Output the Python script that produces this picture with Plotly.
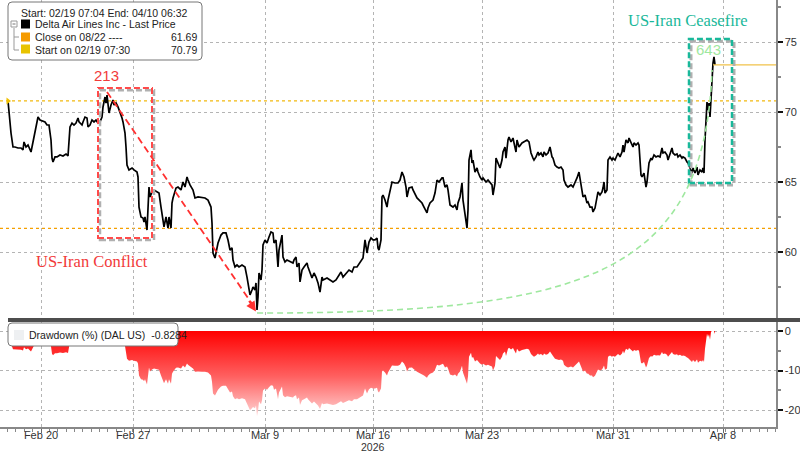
import plotly.graph_objects as go
import numpy as np

# ---------------- data ----------------
# intraday bar index (compressed trading time) and DAL last price
bar = [8, 9, 11, 13, 15, 18, 21, 23, 24, 26, 28, 31, 33, 34, 35, 37, 38, 40, 42, 45, 47, 49, 51, 52, 53, 55, 57, 60, 63, 66, 68,
       70, 72, 74, 76, 78, 79, 82, 83, 85, 87, 88, 90, 92, 94, 96, 98, 100, 102, 103, 105, 106, 107, 108, 109, 111, 113, 114, 116,
       118, 120, 122, 123, 125, 126, 127, 129, 132, 134, 137, 138, 139, 141, 143, 144, 145, 147, 148, 149, 150, 152, 154, 157, 159,
       161, 163, 164, 166, 168, 169, 171, 172, 173, 176, 178, 181, 183, 185, 187, 188, 190,
       193, 195, 198, 202, 205, 208, 211, 212, 213, 215, 217, 218, 221, 223, 226, 228, 230, 232, 233, 235, 237, 239, 242, 245, 247,
       249, 250, 252, 253, 255, 256, 257, 258, 259, 261, 262, 263, 265, 267, 269, 271, 273, 274, 276, 277, 278, 279, 281, 282, 283,
       285, 287, 290, 293, 294, 296, 297, 299, 300, 302, 304, 307, 308, 310, 312, 314, 316, 318, 320, 322, 323, 327, 330, 333, 336,
       338, 341, 343, 345, 347, 349, 352, 354, 357, 360, 362, 363, 365, 366, 367, 369, 371, 373, 375, 377, 378, 379, 381, 382, 383,
       385, 387, 388,
       390, 392, 395, 398, 400, 402, 404, 406, 407, 409, 412, 413, 417, 419, 422, 424, 427, 428, 430, 433, 435, 437, 439, 442, 443,
       445, 447, 448, 450, 453, 455, 457, 458, 460, 462, 463, 465, 466, 467, 468, 469, 471, 472, 473, 475, 477, 478, 480, 482, 483,
       486, 488, 490, 492, 493, 495, 496, 498, 500, 502, 503, 505, 506, 508, 509, 511, 513, 514, 516, 517, 519, 522, 524, 527, 529,
       531, 533, 534, 536, 538, 539, 541, 543, 544, 546, 548, 550, 552, 553, 555, 557, 559, 561, 563, 564, 566, 568, 571, 573, 574,
       577, 579, 581, 583, 585, 587, 588, 590, 592, 593, 595, 597, 598, 600, 602, 603, 604, 605, 607, 608, 610, 612, 613, 615, 617,
       618, 620, 622, 623, 624, 626, 628, 629, 631, 633, 634, 636, 638, 639, 641, 642, 644, 646, 647, 649, 651, 652, 654, 656, 658,
       660, 662, 663, 665, 667, 668, 670, 672, 673, 675, 677, 678, 680, 682, 683, 685, 687, 688, 690, 692, 693, 695, 697, 698, 700,
       702, 703, 704, 705, 706, 707, 708, 709, 710, 711, 712, 713, 714, 715]

price = [70.79, 69.93, 68.50, 67.50, 67.50, 67.43, 67.43, 67.29, 67.86, 67.50, 67.64, 67.14, 67.79, 68.36, 68.50, 69.21, 69.64,
         69.43, 69.36, 69.29, 69.07, 69.07, 68.00, 66.71, 66.43, 66.79, 66.79, 66.93, 66.86, 67.00, 66.86,
         68.93, 69.21, 69.07, 69.21, 69.57, 69.29, 69.07, 69.29, 69.64, 69.57, 68.93, 69.07, 69.43, 69.29, 69.43, 69.21, 69.29,
         69.64, 70.36, 71.07, 70.64, 71.21, 70.64, 69.93, 70.50, 70.86, 70.50, 70.64,
         70.36, 70.00, 69.57, 69.29, 68.50, 67.50, 66.21, 65.86, 66.00, 65.86, 65.71, 65.36, 63.21, 62.50, 62.43, 62.14, 62.50,
         61.57, 63.50, 64.64, 63.93, 64.29, 64.43, 64.29, 64.21,
         63.21, 62.07, 61.79, 62.50, 61.71, 62.50, 61.71, 63.50, 63.86, 64.57, 64.64, 64.43, 65.00, 64.64, 65.36, 65.14, 64.79,
         64.43, 63.86, 63.93, 63.86, 63.86, 63.71, 63.21, 62.07, 59.93, 59.57, 60.14, 60.64, 61.21, 61.36, 61.36, 60.86, 60.14,
         60.29, 59.43, 58.93, 59.07, 58.93, 59.07, 58.93, 58.21,
         57.50, 56.93, 57.29, 57.50, 57.29, 57.79, 55.86, 56.79, 58.50, 58.00, 58.71, 60.50, 60.86, 60.64, 61.07, 61.43, 61.36,
         60.64, 60.86, 59.93, 58.93, 60.14, 61.07, 61.21, 59.64,
         59.29, 59.43, 59.29, 59.21, 59.43, 59.64, 58.93, 59.21, 57.86, 58.71, 58.93, 59.21, 58.93, 58.50, 58.14, 58.50, 58.21,
         57.79, 57.14, 58.21, 58.00, 58.14, 58.00, 57.86, 58.00,
         58.21, 58.57, 58.21, 58.36, 58.50, 58.71, 58.57, 58.93, 58.93, 59.21, 59.43, 59.57, 60.86, 60.50, 59.93, 60.71, 61.00,
         60.86, 60.86, 61.00, 60.29, 60.14, 60.86, 63.93, 64.07,
         63.71, 63.21, 63.71,
         64.43, 65.00, 64.93, 64.93, 65.14, 65.71, 65.36, 64.64, 63.93, 64.57, 64.64, 64.43, 63.86, 63.71, 63.50, 63.21, 62.79,
         63.14, 63.50, 63.71, 64.21, 65.14, 65.00, 65.29, 65.29,
         64.64, 64.79, 64.43, 63.36, 63.21, 63.36, 63.00, 63.50, 63.93, 64.93, 63.71, 62.79, 62.29, 61.71, 63.00, 66.57, 67.29,
         66.36, 66.57, 65.71, 66.00, 65.71, 65.36, 65.14, 65.29,
         65.00, 65.14, 64.93, 64.79, 64.07, 64.93, 66.71, 66.36, 66.00, 66.57, 67.14, 67.50, 66.71, 68.00, 68.21, 67.86, 68.14,
         67.79, 67.14, 68.00, 67.50, 67.79, 67.86, 68.00, 67.86,
         67.07, 66.71, 66.57, 66.79, 67.14, 66.93, 67.07, 66.79, 67.14, 66.93, 67.07, 67.50, 66.79, 66.71, 66.21, 66.07, 66.00,
         66.07, 65.86, 65.14, 64.79, 64.64, 64.79, 64.64, 64.79,
         65.29, 65.71, 64.79, 63.93, 64.07, 63.50, 63.57, 63.21, 63.21, 62.86, 63.14, 63.93, 64.29, 64.07, 64.29, 64.57, 65.00,
         64.21, 64.43, 66.57, 66.79, 66.57, 66.71, 66.57, 66.93,
         67.07, 66.79, 67.14, 67.64, 67.14, 68.00, 67.79, 68.14, 67.79, 67.50, 67.79, 67.64, 67.79, 67.64, 65.50, 65.36, 65.64,
         64.64, 65.00, 66.36, 66.71, 66.57, 66.93, 66.79, 66.86,
         66.79, 67.43, 67.07, 67.14, 66.93, 66.57, 66.93, 67.43, 67.07, 66.93, 67.00, 66.79, 66.93, 66.71, 66.79, 66.71, 66.43,
         66.36, 66.00, 65.64, 66.00, 65.64, 66.07, 65.50, 65.86,
         65.71, 66.00, 65.64, 68.00, 69.43, 70.71, 70.14, 70.64, 69.64, 71.07, 73.00, 73.50, 73.93, 73.36]

tick_bars = [41, 133, 265, 373, 482, 613, 723]
tick_labels = ["Feb 20", "Feb 27", "Mar 9", "Mar 16", "Mar 23", "Mar 31", "Apr 8"]
price_ticks = [60, 65, 70, 75]
dd_ticks = [0, -10, -20]

close_0822 = 61.69
start_0219 = 70.79
last_price = 73.36
drawdown_last = -0.8284

p = np.array(price)
drawdown = (p / np.maximum.accumulate(p) - 1.0) * 100.0

# ---------------- layout helpers ----------------
W, H = 800, 452
ML, MR, MT, MB = 0, 24, 0, 25
PW, PH = W - ML - MR, H - MT - MB


def px(x):
    return (x - ML) / PW


def py(y):
    return (H - MB - y) / PH


def rrect(x0, y0, x1, y1, r=4):
    a, b, c, d = px(x0), py(y0), px(x1), py(y1)
    rx, ry = r / PW, r / PH
    return (f"M {a+rx},{b} L {c-rx},{b} Q {c},{b} {c},{b-ry} L {c},{d+ry} Q {c},{d} {c-rx},{d} "
            f"L {a+rx},{d} Q {a},{d} {a},{d+ry} L {a},{b-ry} Q {a},{b} {a+rx},{b} Z")


SANS = "Liberation Sans, Arial, sans-serif"
SERIF = "Liberation Serif, Times New Roman, serif"
RED = "#f23a3a"
TEAL = "#19b89a"
LGREEN = "#9fe89f"

fig = go.Figure()

# price line (top panel)
fig.add_trace(go.Scatter(x=bar, y=price, mode="lines", line=dict(color="black", width=1.7),
                         xaxis="x2", yaxis="y", hoverinfo="skip", showlegend=False))
# start marker
fig.add_trace(go.Scatter(x=[bar[0]], y=[price[0]], mode="markers",
                         marker=dict(symbol="triangle-right", size=6, color="#f0c000"),
                         xaxis="x2", yaxis="y", hoverinfo="skip", showlegend=False))
# drawdown area (bottom panel)
fig.add_trace(go.Scatter(x=bar, y=drawdown, mode="lines", line=dict(width=0, color="red"),
                         fill="tozeroy",
                         fillgradient=dict(type="vertical", start=-23, stop=0,
                                           colorscale=[[0, "#ffe4e4"], [0.5, "#ff6060"], [1, "#ff0000"]]),
                         xaxis="x", yaxis="y2", hoverinfo="skip", showlegend=False))

grid = dict(showgrid=True, gridcolor="#b4b4b4", griddash="dot", gridwidth=1)

fig.update_layout(
    width=W, height=H, margin=dict(l=ML, r=MR, t=MT, b=MB, autoexpand=False),
    paper_bgcolor="white", plot_bgcolor="white", showlegend=False,
    font=dict(family=SANS, size=11, color="#333"),
    xaxis=dict(domain=[0, 1], anchor="y2", range=[0, PW], tickmode="array", tickvals=tick_bars,
               ticktext=tick_labels, ticks="outside", ticklen=4, tickcolor="#666",
               showline=True, linecolor="#888", linewidth=1.5, zeroline=False,
               tickfont=dict(size=11, color="#333"), ticklabelstandoff=-7,
               minor=dict(tickmode="linear", tick0=41, dtick=8.35, ticks="outside", ticklen=3,
                          tickcolor="#888", showgrid=False),
               **grid),
    xaxis2=dict(domain=[0, 1], anchor="y", matches="x", tickmode="array", tickvals=tick_bars,
                showticklabels=False, ticks="", showline=False, zeroline=False, **grid),
    yaxis=dict(domain=[py(318), 1], anchor="x2", side="right", range=[78 - 318 / 14, 78.0],
               tickmode="array", tickvals=price_ticks, ticks="outside", ticklen=5, tickwidth=2,
               tickcolor="#111", showline=True, linecolor="#888", linewidth=1.5, zeroline=False,
               tickfont=dict(size=11, color="#333"),
               minor=dict(tickmode="linear", tick0=0, dtick=2.5, ticks="outside", ticklen=3,
                          tickcolor="#888", showgrid=False),
               **grid),
    yaxis2=dict(domain=[0, py(322)], anchor="x", side="right", range=[-24.3, 2.28],
                tickmode="array", tickvals=dd_ticks, ticktext=[str(v) for v in dd_ticks],
                ticks="outside", ticklen=5, tickwidth=2, tickcolor="#111",
                showline=True, linecolor="#888", linewidth=1.5, zeroline=False,
                tickfont=dict(size=11, color="#333"),
                minor=dict(tickmode="linear", tick0=0, dtick=5, ticks="outside", ticklen=3,
                           tickcolor="#888", showgrid=False),
                **grid),
)

shapes = []
# reference lines
shapes.append(dict(type="line", xref="paper", yref="y", x0=0, x1=1, y0=start_0219, y1=start_0219,
                   line=dict(color="#f2b90f", width=1.3, dash="dot"), layer="below"))
shapes.append(dict(type="line", xref="paper", yref="y", x0=0, x1=1, y0=close_0822, y1=close_0822,
                   line=dict(color="#f5a000", width=1.3, dash="dot"), layer="below"))
shapes.append(dict(type="line", xref="x2", yref="y", x0=bar[-1] - 2, x1=PW, y0=last_price, y1=last_price,
                   line=dict(color="#f0c24a", width=1.2)))

# conflict box (shadow + red dashed)
for dx, dy, col, wd in [(2, -0.15, "#b0b0b0", 2.5), (0, 0, "#ff4a4a", 2)]:
    shapes.append(dict(type="rect", xref="x2", yref="y", x0=98 + dx, x1=152 + dx, y0=61.0 + dy, y1=71.71 + dy,
                       line=dict(color=col, width=wd, dash="6px,3px")))
# ceasefire box (shadow + teal dashed)
for dx, dy, col, wd in [(2, -0.15, "#b0b0b0", 3), (0, 0, TEAL, 2.5)]:
    shapes.append(dict(type="rect", xref="x2", yref="y", x0=689 + dx, x1=732 + dx, y0=64.93 + dy, y1=75.21 + dy,
                       line=dict(color=col, width=wd, dash="6px,3px")))
# red dashed drawdown arrow line
shapes.append(dict(type="line", xref="x2", yref="y", x0=107, y0=71.43, x1=252, y1=56.3,
                   line=dict(color="#ff3030", width=1.8, dash="7px,4px")))
# green dashed recovery curve
shapes.append(dict(type="path", xref="x2", yref="y",
                   path="M 257,55.64 C 580,55.64 705,58.2 712,73.0",
                   line=dict(color=LGREEN, width=1.6, dash="6px,4px")))

# separator bar between panels
shapes.append(dict(type="rect", xref="paper", yref="paper", x0=px(8), x1=px(800), y0=py(322), y1=py(318),
                   fillcolor="#4d4d4d", line=dict(width=0)))

# top legend box
shapes.append(dict(type="path", xref="paper", yref="paper", path=rrect(8, 2, 202, 60, 4),
                   fillcolor="white", line=dict(color="#777", width=1)))
# tree lines
shapes.append(dict(type="line", xref="paper", yref="paper", x0=px(14), x1=px(14), y0=py(28), y1=py(50),
                   line=dict(color="#999", width=1)))
for yy in (37, 50):
    shapes.append(dict(type="line", xref="paper", yref="paper", x0=px(14), x1=px(19), y0=py(yy), y1=py(yy),
                       line=dict(color="#999", width=1)))
shapes.append(dict(type="rect", xref="paper", yref="paper", x0=px(11), x1=px(17), y0=py(27), y1=py(21),
                   fillcolor="white", line=dict(color="#999", width=1)))
shapes.append(dict(type="line", xref="paper", yref="paper", x0=px(12.5), x1=px(15.5), y0=py(24), y1=py(24),
                   line=dict(color="#777", width=1)))
for y0, col in [(19.5, "#000000"), (32.5, "#f59b00"), (44.5, "#e8c300")]:
    shapes.append(dict(type="rect", xref="paper", yref="paper", x0=px(21), x1=px(30), y0=py(y0 + 9), y1=py(y0),
                       fillcolor=col, line=dict(width=0)))

# bottom legend box
shapes.append(dict(type="path", xref="paper", yref="paper", path=rrect(8, 323, 178, 346, 4),
                   fillcolor="white", line=dict(color="#777", width=1)))
shapes.append(dict(type="rect", xref="paper", yref="paper", x0=px(14), x1=px(24), y0=py(340), y1=py(330),
                   fillcolor="#eef0f2", line=dict(width=0)))

fig.update_layout(shapes=shapes)

ann = []


def ptext(x, y, text, anchor="left", size=10.5, color="#222"):
    ann.append(dict(xref="paper", yref="paper", x=px(x), y=py(y), text=text, showarrow=False,
                    xanchor=anchor, yanchor="middle", font=dict(family=SANS, size=size, color=color)))


ptext(19, 12.5, "Start: 02/19 07:04 End: 04/10 06:32")
ptext(33, 24, "Delta Air Lines Inc - Last Price")
ptext(33, 37, "Close on 08/22 ----")
ptext(199, 37, f"{close_0822:.2f}", anchor="right")
ptext(33, 49.5, "Start on 02/19 07:30")
ptext(199, 49.5, f"{start_0219:.2f}", anchor="right")
ptext(27, 335, f"Drawdown (%) (DAL US)  {drawdown_last:.4f}")

# year label
ann.append(dict(xref="x", yref="paper", x=tick_bars[3], y=py(446.5), text="2026", showarrow=False,
                xanchor="center", yanchor="middle", font=dict(family=SANS, size=10.5, color="#333")))

# chart annotations
ann.append(dict(xref="x2", yref="y", x=106, y=72.64, text="213", showarrow=False,
                font=dict(family=SANS, size=15, color=RED)))
ann.append(dict(xref="x2", yref="y", x=92, y=59.29, text="US-Iran Conflict", showarrow=False,
                font=dict(family=SERIF, size=16.5, color=RED)))
ann.append(dict(xref="x2", yref="y", x=688, y=76.57, text="US-Iran Ceasefire", showarrow=False,
                font=dict(family=SERIF, size=16.5, color=TEAL)))
ann.append(dict(xref="x2", yref="y", x=708, y=74.43, text="643", showarrow=False,
                font=dict(family=SANS, size=15, color=LGREEN)))
# arrowhead at end of red dashed line
ann.append(dict(xref="x2", yref="y", axref="x2", ayref="y", x=256, y=55.75, ax=248, ay=56.6,
                text="", showarrow=True, arrowhead=2, arrowsize=1.1, arrowwidth=1.8, arrowcolor="#ff3030"))

fig.update_layout(annotations=ann)

fig.write_html("out.html", config={"displayModeBar": False, "staticPlot": True},
               post_script="document.body.style.margin='0px';document.body.style.overflow='hidden';")
